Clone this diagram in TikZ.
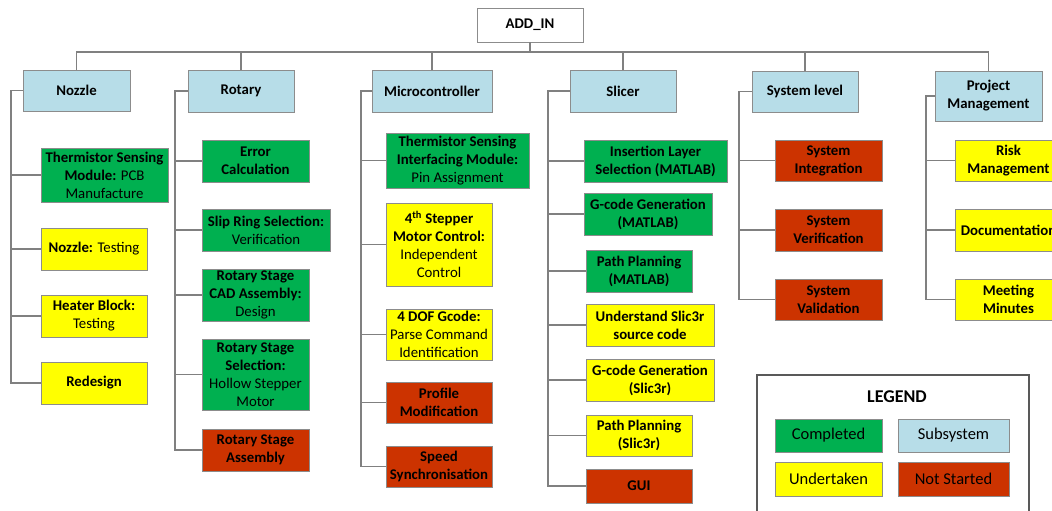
\documentclass[tikz,border=0pt]{standalone}
\usepackage{fontspec}
\setmainfont{Carlito}
\definecolor{compl}{HTML}{00B050}
\definecolor{undert}{HTML}{FFFF00}
\definecolor{notst}{HTML}{CC3300}
\definecolor{subsys}{HTML}{B7DDE8}
\definecolor{edge}{HTML}{8C8C8C}
\definecolor{wire}{HTML}{808080}
\begin{document}
\begin{tikzpicture}[x=1pt,y=-1pt,
  bx/.style={draw=edge, line width=0.8pt, inner sep=0pt, align=center,
    font=\fontsize{14.8}{18}\selectfont},
  bb/.style={bx, font=\bfseries\fontsize{14.8}{18}\selectfont},
  sub/.style={bb, fill=subsys},
  cmp/.style={fill=compl},
  und/.style={fill=undert},
  nst/.style={fill=notst},
  wirestyle/.style={draw=wire, line width=1.1pt},
  lg/.style={bx, font=\fontsize{16.5}{20}\selectfont}
]
\useasboundingbox (0,0) rectangle (1052,511);
\fill[white] (0,0) rectangle (1052,511);

% top
\node[bb, fill=white, minimum width=106pt, minimum height=34pt] (top) at (530,25) {ADD\_IN};
\coordinate (bus) at (0,52);

% subsystems
\node[sub, minimum width=107pt, minimum height=41pt] (noz) at (76.5,90.5) {Nozzle};
\node[sub, minimum width=106pt, minimum height=42pt] (rot) at (241,91) {Rotary};
\node[sub, minimum width=120pt, minimum height=42pt] (mcu) at (432,91) {Microcontroller};
\node[sub, minimum width=106pt, minimum height=42pt] (slc) at (623,91) {Slicer};
\node[sub, minimum width=106pt, minimum height=41pt] (sys) at (805,91.5) {System level};
\node[sub, minimum width=107pt, minimum height=50pt] (pm) at (988.5,96) {Project\\Management};

% bus
\draw[wirestyle] (top.south) -- (top.south |- bus);
\draw[wirestyle] (noz.north) -- (noz.north |- bus) -- (pm.north |- bus) -- (pm.north);
\foreach \n in {rot,mcu,slc,sys} \draw[wirestyle] (\n.north) -- (\n.north |- bus);

% Nozzle children
\node[bx, cmp, minimum width=127pt, minimum height=54pt] (n1) at (104.5,175) {\textbf{Thermistor Sensing}\\\textbf{Module:} PCB\\Manufacture};
\node[bx, und, minimum width=106pt, minimum height=42pt] (n2) at (94,249) {\textbf{Nozzle:} Testing};
\node[bx, und, minimum width=106pt, minimum height=42pt] (n3) at (94,316) {\textbf{Heater Block:}\\Testing};
\node[bb, und, minimum width=106pt, minimum height=42pt] (n4) at (94,383) {Redesign};
\coordinate (nozS) at (11,0);
\draw[wirestyle] (noz.west) -- (noz.west -| nozS) |- (n4.west);
\foreach \c in {n1,n2,n3} \draw[wirestyle] (\c.west) -- (\c.west -| nozS);

% Rotary children
\node[bb, cmp, minimum width=107pt, minimum height=42pt] (r1) at (255.5,161) {Error\\Calculation};
\node[bx, cmp, minimum width=128pt, minimum height=42pt] (r2) at (266,230) {\textbf{Slip Ring Selection:}\\Verification};
\node[bx, cmp, minimum width=107pt, minimum height=52pt] (r3) at (255.5,295) {\textbf{Rotary Stage}\\\textbf{CAD Assembly:}\\Design};
\node[bx, cmp, minimum width=107pt, minimum height=71pt] (r4) at (255.5,374.5) {\textbf{Rotary Stage}\\\textbf{Selection:}\\Hollow Stepper\\Motor};
\node[bb, nst, minimum width=107pt, minimum height=42pt] (r5) at (255.5,450) {Rotary Stage\\Assembly};
\coordinate (rotS) at (175,0);
\draw[wirestyle] (rot.west) -- (rot.west -| rotS) |- (r5.west);
\foreach \c in {r1,r2,r3,r4} \draw[wirestyle] (\c.west) -- (\c.west -| rotS);

% Microcontroller children
\node[bx, cmp, minimum width=143pt, minimum height=55pt] (m1) at (457.5,160.5) {\textbf{Thermistor Sensing}\\\textbf{Interfacing Module:}\\Pin Assignment};
\node[bx, und, minimum width=106pt, minimum height=83pt] (m2) at (439,244.5) {\textbf{4\textsuperscript{th} Stepper}\\\textbf{Motor Control:}\\Independent\\Control};
\node[bx, und, minimum width=106pt, minimum height=51pt] (m3) at (439,334.5) {\textbf{4 DOF Gcode:}\\Parse Command\\Identification};
\node[bb, nst, minimum width=106pt, minimum height=41pt] (m4) at (439,402.5) {Profile\\Modification};
\node[bb, nst, minimum width=106pt, minimum height=41pt] (m5) at (439,466.5) {Speed\\Synchronisation};
\coordinate (mcuS) at (361,0);
\draw[wirestyle] (mcu.west) -- (mcu.west -| mcuS) |- (m5.west);
\foreach \c in {m1,m2,m3,m4} \draw[wirestyle] (\c.west) -- (\c.west -| mcuS);

% Slicer children
\node[bb, cmp, minimum width=143pt, minimum height=42pt] (s1) at (655.5,161) {Insertion Layer\\Selection (MATLAB)};
\node[bb, cmp, minimum width=128pt, minimum height=42pt] (s2) at (648,214) {G-code Generation\\(MATLAB)};
\node[bb, cmp, minimum width=106pt, minimum height=42pt] (s3) at (639,271) {Path Planning\\(MATLAB)};
\node[bb, und, minimum width=128pt, minimum height=42pt] (s4) at (650,325) {Understand Slic3r\\source code};
\node[bb, und, minimum width=128pt, minimum height=42pt] (s5) at (650,380) {G-code Generation\\(Slic3r)};
\node[bb, und, minimum width=106pt, minimum height=41pt] (s6) at (639,435.5) {Path Planning\\(Slic3r)};
\node[bb, nst, minimum width=106pt, minimum height=34pt] (s7) at (639,486) {GUI};
\coordinate (slcS) at (548,0);
\draw[wirestyle] (slc.west) -- (slc.west -| slcS) |- (s7.west);
\foreach \c in {s1,s2,s3,s4,s5,s6} \draw[wirestyle] (\c.west) -- (\c.west -| slcS);

% System level children
\node[bb, nst, minimum width=107pt, minimum height=41pt] (y1) at (828.5,160.5) {System\\Integration};
\node[bb, nst, minimum width=107pt, minimum height=42pt] (y2) at (828.5,230) {System\\Verification};
\node[bb, nst, minimum width=107pt, minimum height=41pt] (y3) at (828.5,299.5) {System\\Validation};
\coordinate (sysS) at (739,0);
\draw[wirestyle] (sys.west) -- (sys.west -| sysS) |- (y3.west);
\foreach \c in {y1,y2} \draw[wirestyle] (\c.west) -- (\c.west -| sysS);

% Project management children
\node[bb, und, minimum width=107pt, minimum height=41pt] (p1) at (1008.5,160.5) {Risk\\Management};
\node[bb, und, minimum width=107pt, minimum height=42pt] (p2) at (1008.5,230) {Documentation};
\node[bb, und, minimum width=107pt, minimum height=41pt] (p3) at (1008.5,299.5) {Meeting\\Minutes};
\coordinate (pmS) at (926,0);
\draw[wirestyle] (pm.west) -- (pm.west -| pmS) |- (p3.west);
\foreach \c in {p1,p2} \draw[wirestyle] (\c.west) -- (\c.west -| pmS);

% Legend
\draw[draw=black!65, line width=1.6pt, fill=white] (757,375) rectangle (1029,530);
\node[font=\bfseries\fontsize{18}{22}\selectfont] (lgt) at (897,397) {LEGEND};
\node[lg, cmp, minimum width=107pt, minimum height=33pt] (lg1) at (828.5,435.5) {Completed};
\node[lg, fill=subsys, minimum width=111pt, minimum height=33pt] (lg2) at (953.5,435.5) {Subsystem};
\node[lg, und, minimum width=107pt, minimum height=34pt] (lg3) at (828.5,479) {Undertaken};
\node[lg, nst, minimum width=111pt, minimum height=34pt] (lg4) at (953.5,479) {Not Started};
\end{tikzpicture}
\end{document}
